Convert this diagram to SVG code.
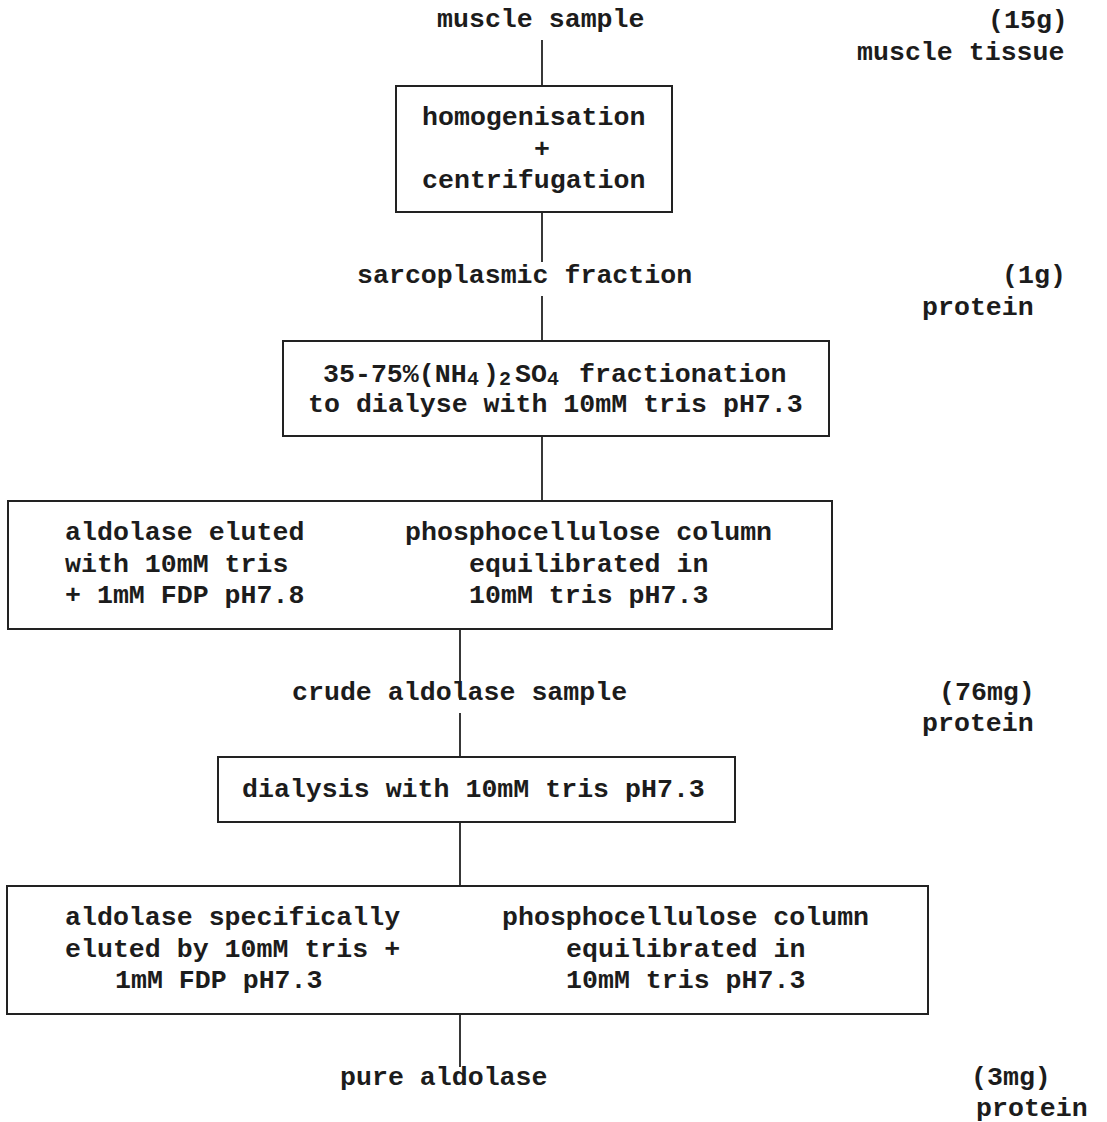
<svg xmlns="http://www.w3.org/2000/svg" width="1107" height="1122" viewBox="0 0 1107 1122">
<style>
.t{font-family:"Liberation Mono","Courier New",monospace;font-size:26.6px;font-weight:bold;fill:#1c1c1c}
.s{font-size:20px}
.box{fill:none;stroke:#222;stroke-width:2}
.ln{stroke:#222;stroke-width:1.8;fill:none}
</style>
<rect width="1107" height="1122" fill="#fff"/>
<g id="connectors">
<line class="ln" x1="542" y1="40" x2="542" y2="86"/>
<line class="ln" x1="542" y1="212" x2="542" y2="262"/>
<line class="ln" x1="542" y1="296" x2="542" y2="341"/>
<line class="ln" x1="542" y1="436" x2="542" y2="501"/>
<line class="ln" x1="460" y1="629" x2="460" y2="700"/>
<line class="ln" x1="460" y1="713" x2="460" y2="757"/>
<line class="ln" x1="460" y1="822" x2="460" y2="886"/>
<line class="ln" x1="460" y1="1014" x2="460" y2="1067"/>
</g>
<g id="muscle-sample">
<text class="t" x="437" y="27">muscle sample</text>
</g>
<g id="amount-15g">
<text class="t" x="988" y="28">(15g)</text>
<text class="t" x="857" y="60">muscle tissue</text>
</g>
<g id="homogenisation">
<rect class="box" x="396" y="86" width="276" height="126"/>
<text class="t" x="422" y="125">homogenisation</text>
<text class="t" x="534" y="157">+</text>
<text class="t" x="422" y="188">centrifugation</text>
</g>
<g id="sarcoplasmic">
<text class="t" x="357" y="283">sarcoplasmic fraction</text>
</g>
<g id="amount-1g">
<text class="t" x="1002" y="283">(1g)</text>
<text class="t" x="922" y="315">protein</text>
</g>
<g id="fractionation">
<rect class="box" x="283" y="341" width="546" height="95"/>
<text class="t" y="382"><tspan x="323">35-75%(NH</tspan><tspan x="467" dy="3" class="s">4</tspan><tspan x="483" dy="-3">)</tspan><tspan x="499" dy="3" class="s">2</tspan><tspan x="515" dy="-3">SO</tspan><tspan x="547" dy="3" class="s">4</tspan><tspan x="563" dy="-3"> fractionation</tspan></text>
<text class="t" x="308" y="412">to dialyse with 10mM tris pH7.3</text>
</g>
<g id="column1">
<rect class="box" x="8" y="501" width="824" height="128"/>
<text class="t" x="65" y="540">aldolase eluted</text>
<text class="t" x="65" y="572">with 10mM tris</text>
<text class="t" x="65" y="603">+ 1mM FDP pH7.8</text>
<text class="t" x="405" y="540">phosphocellulose column</text>
<text class="t" x="469" y="572">equilibrated in</text>
<text class="t" x="469" y="603">10mM tris pH7.3</text>
</g>
<g id="crude">
<text class="t" x="292" y="700">crude aldolase sample</text>
</g>
<g id="amount-76mg">
<text class="t" x="939" y="700">(76mg)</text>
<text class="t" x="922" y="731">protein</text>
</g>
<g id="dialysis">
<rect class="box" x="218" y="757" width="517" height="65"/>
<text class="t" x="242" y="797">dialysis with 10mM tris pH7.3</text>
</g>
<g id="column2">
<rect class="box" x="7" y="886" width="921" height="128"/>
<text class="t" x="65" y="925">aldolase specifically</text>
<text class="t" x="65" y="957">eluted by 10mM tris +</text>
<text class="t" x="115" y="988">1mM FDP pH7.3</text>
<text class="t" x="502" y="925">phosphocellulose column</text>
<text class="t" x="566" y="957">equilibrated in</text>
<text class="t" x="566" y="988">10mM tris pH7.3</text>
</g>
<g id="pure">
<text class="t" x="340" y="1085">pure aldolase</text>
</g>
<g id="amount-3mg">
<text class="t" x="971" y="1085">(3mg)</text>
<text class="t" x="976" y="1116">protein</text>
</g>
</svg>
